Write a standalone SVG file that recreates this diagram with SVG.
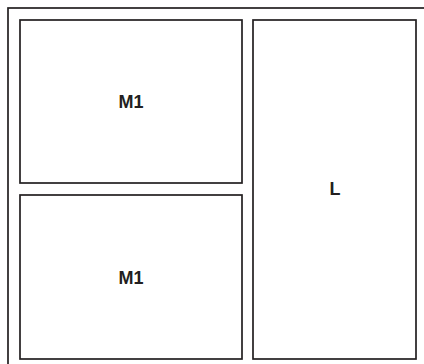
<svg xmlns="http://www.w3.org/2000/svg" width="424" height="364" viewBox="0 0 424 364">
<style>
.box{fill:#fff;stroke:#231f20;stroke-width:1.7}
.lbl{font-family:"Liberation Sans",Arial,sans-serif;font-size:18px;font-weight:bold;fill:#231f20;text-anchor:middle}
</style>
<rect width="424" height="364" fill="#fff"/>
<g id="frame"><rect class="box" x="8" y="8" width="440" height="380"/></g>
<g id="m1-top"><rect class="box" x="20" y="20" width="222" height="163"/><text class="lbl" x="131" y="108">M1</text></g>
<g id="m1-bottom"><rect class="box" x="20" y="195" width="222" height="164"/><text class="lbl" x="131" y="284">M1</text></g>
<g id="l"><rect class="box" x="253" y="20" width="163" height="339"/><text class="lbl" x="335" y="195">L</text></g>
<g id="connectors"/>
</svg>
